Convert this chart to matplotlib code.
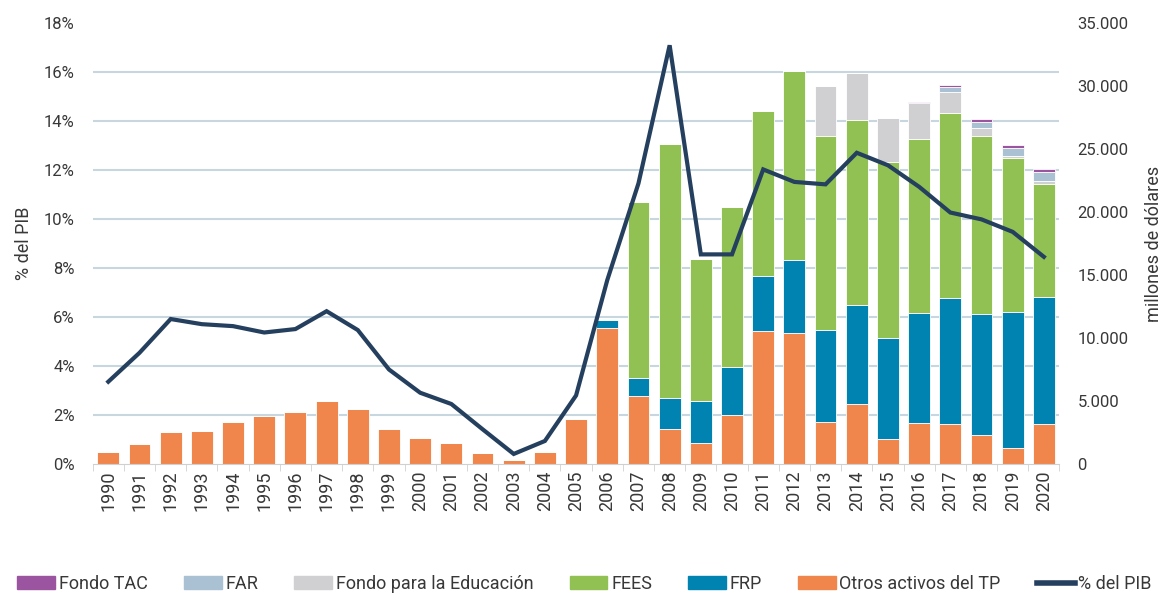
import numpy as np
import matplotlib.pyplot as plt
import matplotlib.ticker as mticker
from matplotlib.patches import Patch
from matplotlib.lines import Line2D

plt.rcParams['font.family'] = ['Roboto', 'DejaVu Sans']

years = [str(y) for y in range(1990, 2021)]

# millones de dólares
otros = [980, 1560, 2560, 2620, 3310, 3830, 4150, 5020, 4340, 2750, 2090, 1640, 900, 320, 980, 3600,
         10820, 5400, 2800, 1640, 3860, 10560, 10370, 3310, 4740, 1980, 3230, 3200, 2300, 1245, 3175]
frp = [0] * 16 + [580, 1450, 2460, 3380, 3810, 4360, 5840, 7325, 7880, 8045, 8780, 9975, 9630, 10795, 10105]
fees = [0] * 17 + [13970, 20190, 11280, 12730, 13150, 15000, 15395, 14680, 13965, 13785, 14685, 14100, 12225, 8970]
educ = [0] * 23 + [4010, 3710, 3450, 2880, 1665, 660, 205, 240]
far = [0] * 27 + [420, 480, 585, 710]
tac = [0] * 25 + [60, 80, 135, 210, 265, 240]

# % del PIB
pib = [3.36, 4.54, 5.92, 5.71, 5.63, 5.37, 5.51, 6.24, 5.47, 3.86, 2.91, 2.45, 1.42, 0.41, 0.94, 2.8,
       7.51, 11.46, 17.1, 8.56, 8.56, 12.03, 11.52, 11.42, 12.71, 12.2, 11.32, 10.27, 9.99, 9.48, 8.46]

c_tac = '#9b55a0'
c_far = '#a9c1d3'
c_edu = '#d0d0d2'
c_fees = '#92c153'
c_frp = '#0083b0'
c_otros = '#f0864c'
c_line = '#253f5f'
grid_c = '#c8d6e0'
txt_c = '#383838'

fig = plt.figure(figsize=(11.69, 5.96), dpi=100)
ax = fig.add_axes([0.0793, 0.2215, 0.827, 0.7395])
ax2 = ax.twinx()

x = np.arange(len(years))
series = [(otros, c_otros), (frp, c_frp), (fees, c_fees), (educ, c_edu), (far, c_far), (tac, c_tac)]
bottom = np.zeros(len(years))
for vals, col in series:
    vals = np.array(vals, dtype=float)
    ax.bar(x, vals, 0.7, bottom=bottom, color=col, edgecolor='white', linewidth=0.6, zorder=2)
    bottom += vals

ax.set_xlim(-0.5, len(years) - 0.5)
ax.set_ylim(0, 35000)
ax.yaxis.tick_right()
ax.yaxis.set_label_position('right')
ax.set_yticks(np.arange(0, 35001, 5000))
ax.yaxis.set_major_formatter(mticker.FuncFormatter(lambda v, p: f'{int(v):,}'.replace(',', '.')))
# gridlines follow the % axis
ax.set_yticks(np.arange(0, 10) * 35000 / 9, minor=True)
ax.grid(axis='y', which='minor', color=grid_c, linewidth=1.5)
ax.set_axisbelow(True)
ax.tick_params(axis='y', which='both', length=0, pad=13, labelsize=12, labelcolor=txt_c)
ax.set_ylabel('millones de dólares', fontsize=13, color=txt_c, labelpad=12)

ax.set_xticks(x)
ax.set_xticklabels(years, rotation=90, fontsize=13, color=txt_c)
ax.set_xticks(np.arange(-0.5, len(years)), minor=True)
ax.tick_params(axis='x', which='major', length=0, pad=5)
ax.tick_params(axis='x', which='minor', length=5, color='#d0d0d0')

for s in ['top', 'left', 'right']:
    ax.spines[s].set_visible(False)
ax.spines['bottom'].set_color('#d0d0d0')

ax2.plot(x, pib, color=c_line, linewidth=3, solid_joinstyle='miter', zorder=5)
ax2.set_ylim(0, 18)
ax2.yaxis.tick_left()
ax2.yaxis.set_label_position('left')
ax2.set_yticks(np.arange(0, 19, 2))
ax2.yaxis.set_major_formatter(mticker.FuncFormatter(lambda v, p: f'{int(v)}%'))
ax2.tick_params(axis='y', length=0, pad=13, labelsize=12, labelcolor=txt_c)
ax2.set_ylabel('% del PIB', fontsize=13, color=txt_c, labelpad=8)
for s in ax2.spines.values():
    s.set_visible(False)

handles = [Patch(color=c_tac), Patch(color=c_far), Patch(color=c_edu), Patch(color=c_fees),
           Patch(color=c_frp), Patch(color=c_otros), Line2D([0], [0], color=c_line, linewidth=4)]
labels = ['Fondo TAC', 'FAR', 'Fondo para la Educación', 'FEES', 'FRP', 'Otros activos del TP', '% del PIB']
fig.legend(handles, labels, loc='lower center', bbox_to_anchor=(0.5, -0.022), ncol=7, frameon=False,
           fontsize=13, handlelength=2.1, handleheight=0.7, handletextpad=0.2, columnspacing=2.0,
           labelcolor=txt_c)

fig.savefig('out.png', dpi=100)
